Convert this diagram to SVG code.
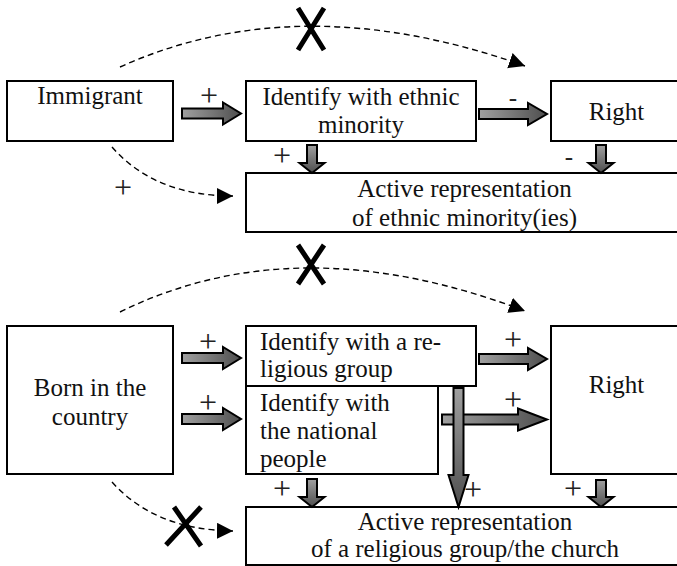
<svg xmlns="http://www.w3.org/2000/svg" width="677" height="566" viewBox="0 0 677 566">
<style>
.box{fill:#fff;stroke:#000;stroke-width:2}
.t{font-family:"Liberation Serif","Times New Roman",serif;font-size:25px;fill:#111}
.c{text-anchor:middle}
.sign{font-family:"Liberation Serif","Times New Roman",serif;font-size:32px;fill:#222;text-anchor:middle}
.minus{font-family:"Liberation Serif","Times New Roman",serif;font-size:25px;fill:#222;text-anchor:middle}
.fatH{fill:url(#gH);stroke:#000;stroke-width:2;stroke-linejoin:miter}
.fatV{fill:url(#gV);stroke:#000;stroke-width:2;stroke-linejoin:miter}
.dash{fill:none;stroke:#000;stroke-width:1.4;stroke-dasharray:6 4;marker-end:url(#ah)}
.x{stroke:#000;stroke-width:5;stroke-linecap:butt;fill:none}
</style>
<defs>
<linearGradient id="gH" x1="0" y1="0" x2="1" y2="0">
<stop offset="0" stop-color="#a0a0a0"/><stop offset="1" stop-color="#4e4e4e"/>
</linearGradient>
<linearGradient id="gV" x1="0" y1="0" x2="0" y2="1">
<stop offset="0" stop-color="#a0a0a0"/><stop offset="1" stop-color="#4e4e4e"/>
</linearGradient>
<marker id="ah" markerUnits="userSpaceOnUse" markerWidth="18" markerHeight="18" refX="16" refY="8" orient="auto" viewBox="0 0 18 18">
<path d="M0,0 L16,8 L0,16 Z" fill="#000"/>
</marker>
</defs>

<g id="immigrant">
<rect class="box" x="7" y="81" width="166" height="60"/>
<text class="t c" x="90" y="104">Immigrant</text>
</g>
<g id="identify-ethnic">
<rect class="box" x="246" y="81" width="230" height="60"/>
<text class="t c" x="361" y="105">Identify with ethnic</text>
<text class="t c" x="361" y="133">minority</text>
</g>
<g id="right-1">
<rect class="box" x="551" y="81" width="131" height="60"/>
<text class="t c" x="616.5" y="120">Right</text>
</g>
<g id="active-ethnic">
<rect class="box" x="246" y="173" width="436" height="59"/>
<text class="t c" x="464.5" y="197">Active representation</text>
<text class="t c" x="464.5" y="226">of ethnic minority(ies)</text>
</g>

<g id="born">
<rect class="box" x="7" y="326" width="166" height="148"/>
<text class="t c" x="90" y="396">Born in the</text>
<text class="t c" x="90" y="425">country</text>
</g>
<g id="identify-religious">
<rect class="box" x="246" y="326" width="230" height="60"/>
<text class="t" x="260" y="350">Identify with a re-</text>
<text class="t" x="260" y="377">ligious group</text>
</g>
<g id="identify-national">
<rect class="box" x="246" y="386" width="192" height="88"/>
<text class="t" x="260" y="411">Identify with</text>
<text class="t" x="260" y="439">the national</text>
<text class="t" x="260" y="467">people</text>
</g>
<g id="right-2">
<rect class="box" x="551" y="326" width="131" height="148"/>
<text class="t c" x="616.5" y="393">Right</text>
</g>
<g id="active-religious">
<rect class="box" x="246" y="507" width="436" height="58"/>
<text class="t c" x="465" y="530">Active representation</text>
<text class="t c" x="465" y="557">of a religious group/the church</text>
</g>

<g id="connectors">
<path class="dash" d="M120,67 Q299.5,-14 525,66"/>
<path class="x" d="M298,8 L324,50 M324,8 L298,50"/>
<path class="dash" d="M112,147 Q155,196 233,196"/>
<path class="fatH" d="M182,108.5 L223,108.5 L223,102.5 L241,113.5 L223,124.5 L223,118.5 L182,118.5 Z"/>
<path class="fatH" d="M479,109 L528,109 L528,103 L547,114 L528,125 L528,119 L479,119 Z"/>
<path class="fatV" d="M307,145 L317,145 L317,163 L324.5,163 L312,173 L299.5,163 L307,163 Z"/>
<path class="fatV" d="M596,145 L606,145 L606,163 L613.5,163 L601,173 L588.5,163 L596,163 Z"/>
<text class="sign" x="209" y="106">+</text>
<text class="minus" x="513" y="105.5">-</text>
<text class="sign" x="282" y="166">+</text>
<text class="minus" x="569" y="165.3">-</text>
<text class="sign" x="123" y="198">+</text>

<path class="dash" d="M120,312 Q297.5,224.5 525,311"/>
<path class="x" d="M298,245 L324,284 M324,245 L298,284"/>
<path class="dash" d="M112,482 Q155,530 233,531"/>
<path class="x" d="M174,507 L201,546 M201,507 L166,545"/>
<path class="fatH" d="M182,353 L223,353 L223,347 L241,358 L223,369 L223,363 L182,363 Z"/>
<path class="fatH" d="M182,414 L223,414 L223,408 L241,419 L223,430 L223,424 L182,424 Z"/>
<path class="fatH" d="M479,354 L528,354 L528,348 L547,359 L528,370 L528,364 L479,364 Z"/>
<path class="fatH" d="M442,414.5 L518,414.5 L518,408.5 L547,419.5 L518,430.5 L518,424.5 L442,424.5 Z"/>
<path class="fatV" d="M453.5,388 L463.5,388 L463.5,475 L468.5,475 L458.5,507 L448.5,475 L453.5,475 Z"/>
<path class="fatV" d="M307,479 L317,479 L317,497 L324.5,497 L312,507 L299.5,497 L307,497 Z"/>
<path class="fatV" d="M596,480 L606,480 L606,497 L613.5,497 L601,507 L588.5,497 L596,497 Z"/>
<text class="sign" x="208" y="352">+</text>
<text class="sign" x="208" y="413">+</text>
<text class="sign" x="513" y="350">+</text>
<text class="sign" x="513" y="410">+</text>
<text class="sign" x="282" y="499">+</text>
<text class="sign" x="473" y="500">+</text>
<text class="sign" x="573" y="499">+</text>
</g>
</svg>
